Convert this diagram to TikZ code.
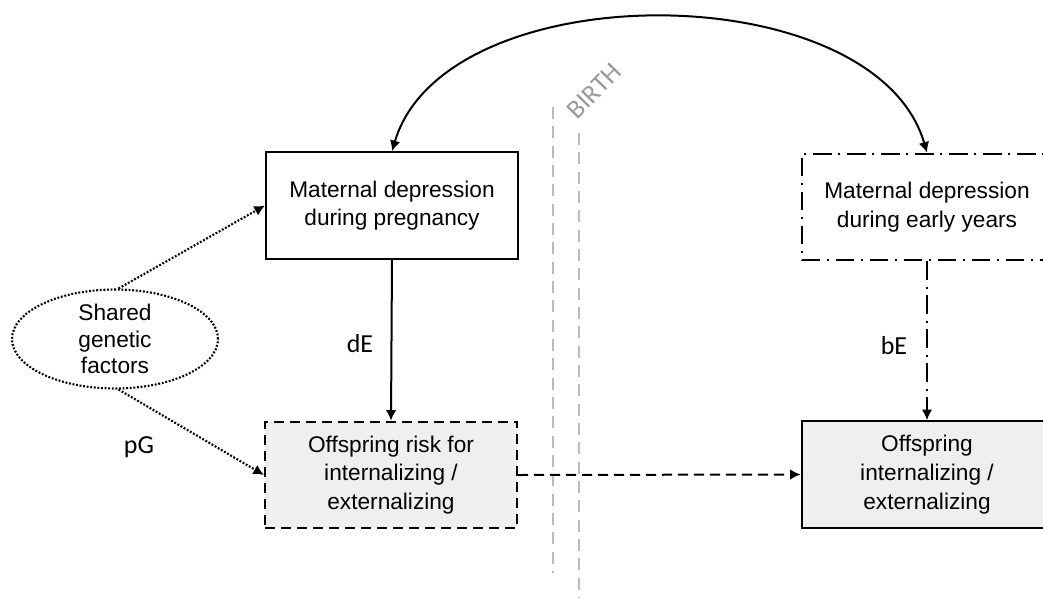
\documentclass[tikz,border=0pt]{standalone}
\usepackage{fontspec}
\setmainfont{Liberation Sans}
\newfontfamily\labfont{Carlito}
\usetikzlibrary{arrows.meta,shapes.geometric,calc}
\definecolor{boxgray}{HTML}{EFEFEF}
\definecolor{birthgray}{HTML}{BBBBBB}
\definecolor{birthtext}{HTML}{999999}
\begin{document}
\begin{tikzpicture}[x=0.75pt,y=-0.75pt,
  every node/.style={font=\fontsize{17pt}{21.5pt}\selectfont, align=center, inner sep=0pt},
  boxnode/.style={rectangle, draw=black, line width=1.5pt, minimum width=189pt, minimum height=80pt},
  arr/.style={line width=1.5pt, -{Latex[length=8pt,width=8pt]}},
  dotline/.style={line width=1.6pt, dash pattern=on 1.4pt off 1.3pt},
  dashline/.style={line width=1.5pt, dash pattern=on 7.5pt off 4.5pt},
  dashdot/.style={line width=1.5pt, dash pattern=on 14pt off 5pt on 1.5pt off 5pt},
  birthline/.style={line width=1.6pt, draw=birthgray, dash pattern=on 9pt off 5.5pt},
  lab/.style={font=\labfont\fontsize{19.5pt}{22pt}\selectfont}
]
\useasboundingbox (0,0) rectangle (1043,597);
\begin{scope}
\clip (0,0) rectangle (1043,597);

% BIRTH lines
\coordinate (bl1) at (553,107);
\coordinate (bl2) at (553,573);
\coordinate (br1) at (579,133);
\coordinate (br2) at (579,600);
\draw[birthline] (bl1) -- (bl2);
\draw[birthline] (br1) -- (br2);
\node[font=\labfont\fontsize{20pt}{22pt}\selectfont, text=birthtext, rotate=46] (birth) at (594,91) {BIRTH};

% boxes
\node[boxnode] (b1) at (392,205.5) {Maternal depression\\during pregnancy};
\node[boxnode, dashdot, minimum width=188pt] (b2) at (927,207) {Maternal depression\\during early years};
\node[boxnode, dashline, fill=boxgray] (b3) at (391,475) {Offspring risk for\\internalizing /\\externalizing};
\node[boxnode, fill=boxgray, minimum width=188pt] (b4) at (927,474.5) {Offspring\\internalizing /\\externalizing};
\node[ellipse, draw=black, dotline, minimum width=154.5pt, minimum height=74pt, font=\fontsize{17pt}{20pt}\selectfont] (ell) at (115,339) {Shared\\genetic\\factors};

% connectors
\draw[arr] (b1.south) -- (b3.north);
\draw[arr, dashdot] (b2.south) -- (b4.north);
\draw[arr, dashline] (b3.east) -- (b4.west);
\draw[arr, dotline] (ell.86) -- (b1.west);
\draw[arr, dotline] (ell.274) -- (b3.west);
\draw[line width=1.5pt, {Latex[length=8pt,width=8pt]}-{Latex[length=8pt,width=8pt]}]
  (b1.north) .. controls +(53,-179) and +(-52,-179) .. (b2.north);

% labels
\node[lab] (dE) at (360,344) {dE};
\node[lab] (bE) at (894,346) {bE};
\node[lab] (pG) at (139,447) {pG};
\end{scope}
\end{tikzpicture}
\end{document}
